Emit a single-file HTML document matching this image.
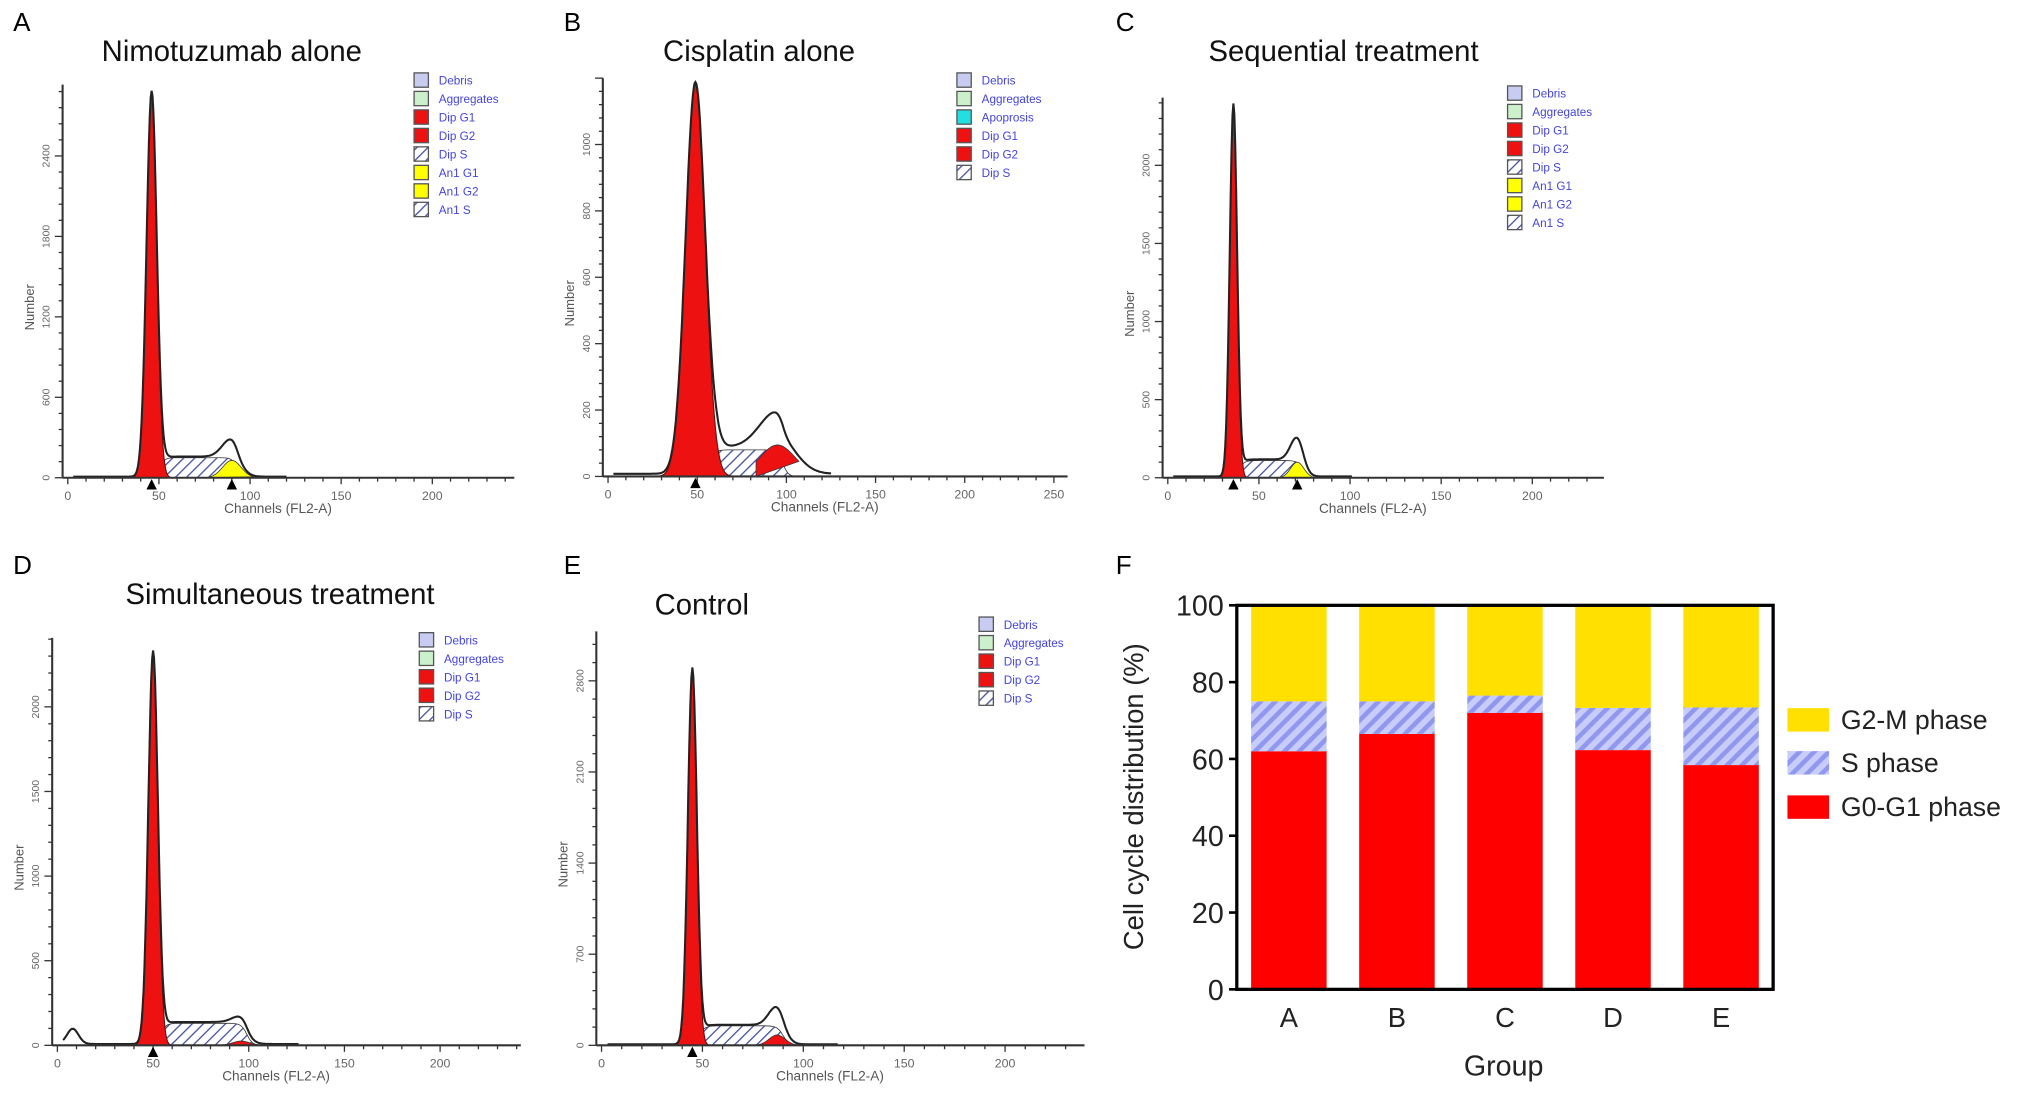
<!DOCTYPE html>
<html><head><meta charset="utf-8"><style>
html,body{margin:0;padding:0;background:#fff;}
svg{display:block;font-family:"Liberation Sans",Arial,sans-serif;}
</style></head><body>
<svg id="fig" width="2031" height="1100" viewBox="0 0 1560 845" xmlns="http://www.w3.org/2000/svg">
<defs>
<pattern id="hatchS" patternUnits="userSpaceOnUse" width="8" height="8" patternTransform="rotate(45)">
<rect width="8" height="8" fill="#c8ccf8"/><rect width="3.5" height="8" fill="#8f97ee"/></pattern>
<pattern id="hatchH" patternUnits="userSpaceOnUse" width="6" height="6" patternTransform="rotate(45)">
<rect width="6" height="6" fill="#fff"/><rect width="1" height="6" fill="#4450a0"/></pattern>
</defs>
<g id="hists"></g>
<g id="barchart"></g>
</svg>
<script>
// ===== Panel F data =====
const groups = ["A","B","C","D","E"];
const g0g1 = [62, 66.5, 72, 62.3, 58.4];
const sPhase = [13, 8.5, 4.5, 11, 15];
const g2m = [25, 25, 23.5, 26.7, 26.6];
const yTicksF = [0,20,40,60,80,100];

// ===== Histogram data (channels / counts) =====
const histNames = ["A","B","C","D","E"];
const histTitles = ["Nimotuzumab alone","Cisplatin alone","Sequential treatment","Simultaneous treatment","Control"];
const g1Channel = [46, 49, 36, 50, 45];
const g1Count = [2870, 1180, 2375, 2315, 2880];
const g1Width = [2.8, 5.5, 2.0, 2.5, 2.2];
const g2Channel = [90, 95, 71, 96, 87];
const g2Count = [140, 110, 150, 40, 150];
const g2Fit = [130, 95, 100, 25, 80];
const sCount = [150, 80, 110, 130, 150];
const yTickStep = [600, 200, 500, 500, 700];
const xTickLabels = [[0,50,100,150,200],[0,50,100,150,200,250],[0,50,100,150,200],[0,50,100,150,200],[0,50,100,150,200]];
const legendItems = [
 ["Debris","Aggregates","Dip G1","Dip G2","Dip S","An1 G1","An1 G2","An1 S"],
 ["Debris","Aggregates","Apoprosis","Dip G1","Dip G2","Dip S"],
 ["Debris","Aggregates","Dip G1","Dip G2","Dip S","An1 G1","An1 G2","An1 S"],
 ["Debris","Aggregates","Dip G1","Dip G2","Dip S"],
 ["Debris","Aggregates","Dip G1","Dip G2","Dip S"]];

// layout (not data)
const L = [
 {lx:10,ly:24,tx:178,ty:47,x0:52,x1:395,ppc:1.4,base:367,top:65,ppy:0.103,legx:318,legy:56,g2col:"#ffff00"},
 {lx:433,ly:24,tx:583,ty:47,x0:467,x1:820,ppc:1.37,base:366,top:60,ppy:0.255,legx:735,legy:56,g2col:"#ee1111"},
 {lx:857,ly:24,tx:1032,ty:47,x0:897,x1:1232,ppc:1.4,base:367,top:75,ppy:0.12,legx:1158,legy:66,g2col:"#ffff00"},
 {lx:10,ly:441,tx:215,ty:464,x0:44,x1:400,ppc:1.47,base:803,top:490,ppy:0.13,legx:322,legy:486,g2col:"#ee1111"},
 {lx:433,ly:441,tx:539,ty:472,x0:462,x1:833,ppc:1.55,base:803,top:485,ppy:0.1,legx:752,legy:474,g2col:"#ee1111"}];
const NS="http://www.w3.org/2000/svg";
function mk(parent,tag,attrs,text){const e=document.createElementNS(NS,tag);for(const k in attrs)e.setAttribute(k,attrs[k]);if(text!==undefined)e.textContent=text;parent.appendChild(e);return e;}
const legColors={"Debris":"#c8ccf0","Aggregates":"#ccf0cc","Apoprosis":"#22e0e0","Dip G1":"#ee1111","Dip G2":"#ee1111","Dip S":"url(#hatchH)","An1 G1":"#ffff00","An1 G2":"#ffff00","An1 S":"url(#hatchH)"};
const hists=document.getElementById('hists');
for(let i=0;i<5;i++){
 const p=L[i];
 const g=mk(hists,'g',{});
 
 
 const lab=mk(g,'text',{x:p.lx,y:p.ly,'font-size':20,fill:'#000'},histNames[i]);
 
 const tt=mk(g,'text',{x:p.tx,y:p.ty,'font-size':22.5,'text-anchor':'middle',fill:'#111'},histTitles[i]);
 
 const X=c=>p.x0+c*p.ppc, Y=v=>p.base-v*p.ppy;
 const gs=(c,m,h,s)=>h*Math.exp(-0.5*((c-m)/s)**2);
 const sig=(c,m)=>1/(1+Math.exp(-(c-m)/1.5));
 const maxC=(p.x1-p.x0)/p.ppc;
 const sFn=c=>sCount[i]*sig(c,g1Channel[i]+g1Width[i]*1.5)*(1-sig(c,g2Channel[i]+3));
 const g2s=g1Width[i]*1.8;
 let d='M'+X(g1Channel[i])+','+Y(0);
 for(let c=g1Channel[i];c<=g2Channel[i]+12;c+=0.5)d+=' L'+X(c).toFixed(1)+','+Y(sFn(c)).toFixed(1);
 d+=' L'+X(g2Channel[i]+12)+','+Y(0)+'Z';
 const sp=mk(g,'path',{d:d,fill:'url(#hatchH)',stroke:'#333','stroke-width':0.6});
 
 d='M'+X(g2Channel[i]-12)+','+Y(0);
 for(let c=g2Channel[i]-12;c<=g2Channel[i]+12;c+=0.5)d+=' L'+X(c).toFixed(1)+','+Y(gs(c,g2Channel[i],g2Fit[i],g2s)).toFixed(1);
 d+='Z';
 const gp=mk(g,'path',{d:d,fill:p.g2col,stroke:'#333','stroke-width':0.6});
 
 d='M'+X(g1Channel[i]-g1Width[i]*4)+','+Y(0);
 for(let c=g1Channel[i]-g1Width[i]*4;c<=g1Channel[i]+g1Width[i]*4;c+=0.25)d+=' L'+X(c).toFixed(1)+','+Y(gs(c,g1Channel[i],g1Count[i],g1Width[i])).toFixed(1);
 d+='Z';
 const rp=mk(g,'path',{d:d,fill:'#ee1111',stroke:'#551111','stroke-width':0.8});
 
 d='';
 for(let c=3;c<=Math.min(maxC,g2Channel[i]+30);c+=0.5){
  let v=gs(c,g1Channel[i],g1Count[i],g1Width[i])+sFn(c)+gs(c,g2Channel[i],g2Count[i],g2s)+(i===3?gs(c,8,90,3):0)+8;
  d+=(d?' L':'M')+X(c).toFixed(1)+','+Y(v).toFixed(1);}
 const op=mk(g,'path',{d:d,fill:'none',stroke:'#222','stroke-width':1.6});
 
 mk(g,'line',{x1:p.x0-4,y1:p.base,x2:p.x1,y2:p.base,stroke:'#333','stroke-width':1.6});
 mk(g,'line',{x1:p.x0-4,y1:p.base,x2:p.x0-4,y2:p.top,stroke:'#333','stroke-width':1.6});
 for(let c=0;X(c)<=p.x1;c+=10)mk(g,'line',{x1:X(c),y1:p.base,x2:X(c),y2:p.base+(c%50===0?5:3),stroke:'#333','stroke-width':1});
 xTickLabels[i].forEach(v=>{mk(g,'text',{x:X(v),y:p.base+17,'font-size':9.5,'text-anchor':'middle',fill:'#666'},v);});
 for(let v=0;Y(v)>=p.top;v+=yTickStep[i]/5)mk(g,'line',{x1:p.x0-4,y1:Y(v),x2:p.x0-(v%yTickStep[i]===0?10:7),y2:Y(v),stroke:'#333','stroke-width':1});
 for(let v=0;Y(v)>=p.top+20;v+=yTickStep[i]){const yy=Y(v);mk(g,'text',{x:p.x0-14,y:yy,'font-size':8,'text-anchor':'middle',fill:'#666',transform:'rotate(-90 '+(p.x0-14)+' '+yy+')'},v);}
 const xt=mk(g,'text',{x:(p.x0+p.x1)/2-10,y:p.base+27,'font-size':10.5,'text-anchor':'middle',fill:'#555'},'Channels (FL2-A)');
 
 const ym=(p.base+p.top)/2+20;
 const yt=mk(g,'text',{x:p.x0-26,y:ym,'font-size':10,'text-anchor':'middle',fill:'#555',transform:'rotate(-90 '+(p.x0-26)+' '+ym+')'},'Number');
 
 const mks=(i===0||i===2)?[g1Channel[i],g2Channel[i]]:[g1Channel[i]];
 mks.forEach(c=>{mk(g,'path',{d:'M'+(X(c)-4)+','+(p.base+9)+' L'+(X(c)+4)+','+(p.base+9)+' L'+X(c)+','+(p.base+1)+'Z',fill:'#000'});});
 legendItems[i].forEach((t,k)=>{
  const yy=p.legy+k*14.2;
  const le=mk(g,'g',{});
  
  mk(le,'rect',{x:p.legx,y:yy,width:11,height:11,fill:legColors[t],stroke:'#555','stroke-width':1});
  mk(le,'text',{x:p.legx+19,y:yy+9,'font-size':9,fill:'#4444dd'},t);
 });
}
// ===== Panel F =====
const bc=document.getElementById('barchart');
const pl=950,pr=1362,pt=465,pb=760;
const yS=v=>pb-(v/100)*(pb-pt);
const xS=i=>990+i*83;
const bw=58;
const fl=mk(bc,'text',{x:857,y:441,'font-size':20,fill:'#000'},'F');

groups.forEach((gname,i)=>{
 const segs=[[0,g0g1[i],'#ff0000','g0g1'],[g0g1[i],g0g1[i]+sPhase[i],'url(#hatchS)','s'],[g0g1[i]+sPhase[i],g0g1[i]+sPhase[i]+g2m[i],'#ffe000','g2m']];
 segs.forEach(s=>{
  const r=mk(bc,'rect',{x:xS(i)-bw/2,y:yS(s[1]),width:bw,height:yS(s[0])-yS(s[1]),fill:s[2]});
  
  
 });
 const tl=mk(bc,'text',{x:xS(i),y:pb+29,'font-size':21,'text-anchor':'middle',fill:'#222'},gname);
 
});
const frame=mk(bc,'rect',{x:pl,y:pt,width:pr-pl,height:pb-pt,fill:'none',stroke:'#000','stroke-width':2.5});

yTicksF.forEach(v=>{
 mk(bc,'line',{x1:pl-6,y1:yS(v),x2:pl,y2:yS(v),stroke:'#000','stroke-width':2});
 const t=mk(bc,'text',{x:pl-10,y:yS(v)+8,'font-size':22,'text-anchor':'end',fill:'#222'},v);
 
});
const yti=mk(bc,'text',{x:878,y:612,'font-size':21,'text-anchor':'middle',fill:'#222',transform:'rotate(-90 878 612)'},'Cell cycle distribution (%)');

const xti=mk(bc,'text',{x:1155,y:826,'font-size':22,'text-anchor':'middle',fill:'#222'},'Group');

[['G2-M phase','#ffe000',544],['S phase','url(#hatchS)',577],['G0-G1 phase','#ff0000',611]].forEach(e=>{
 const lg=mk(bc,'g',{});
 
 mk(lg,'rect',{x:1373,y:e[2],width:32,height:18,fill:e[1]});
 mk(lg,'text',{x:1414,y:e[2]+16,'font-size':20.5,fill:'#222'},e[0]);
});
</script>
</body></html>
